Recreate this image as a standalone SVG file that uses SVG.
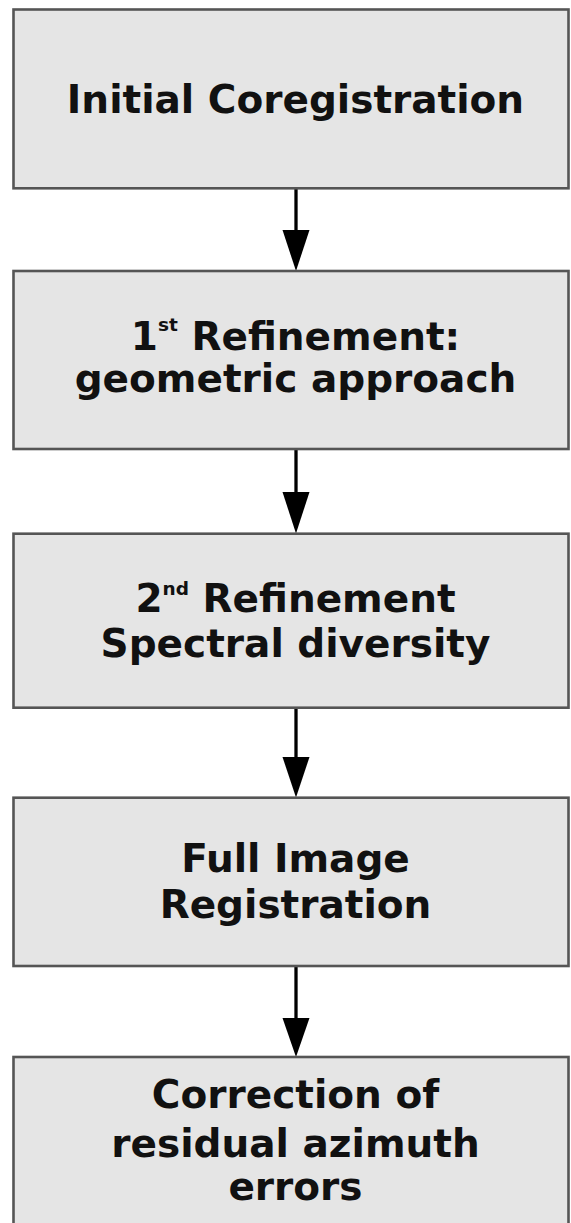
<svg xmlns="http://www.w3.org/2000/svg" width="571" height="1223" viewBox="0 0 571 1223">
<style>
.box{fill:#e5e5e5;stroke:#555555;stroke-width:2.6}
.lbl{font-family:"DejaVu Sans",sans-serif;font-weight:bold;font-size:39px;fill:#111111;text-anchor:middle}
.sup{font-size:18.5px}
.edge{stroke:#000000;stroke-width:3.3;fill:none}
.head{fill:#000000;stroke:none}
</style>
<rect width="571" height="1223" fill="#ffffff"/>
<g id="connectors">
<line class="edge" x1="296" y1="189" x2="296" y2="232"/>
<polygon class="head" points="282.5,230 309.5,230 296,271"/>
<line class="edge" x1="296" y1="450" x2="296" y2="494"/>
<polygon class="head" points="282.5,492 309.5,492 296,533.5"/>
<line class="edge" x1="296" y1="709" x2="296" y2="759"/>
<polygon class="head" points="282.5,757 309.5,757 296,797.5"/>
<line class="edge" x1="296" y1="967" x2="296" y2="1020"/>
<polygon class="head" points="282.5,1018 309.5,1018 296,1057"/>
</g>
<g id="node1">
<rect class="box" x="13.5" y="9.5" width="555" height="178.8"/>
<text class="lbl" x="295.5" y="113.3">Initial Coregistration</text>
</g>
<g id="node2">
<rect class="box" x="13.5" y="271" width="555" height="178"/>
<text class="lbl" x="295.5" y="350">1<tspan class="sup" dy="-19.5">st</tspan><tspan dy="19.5"> Refinement:</tspan></text>
<text class="lbl" x="295.5" y="391.7">geometric approach</text>
</g>
<g id="node3">
<rect class="box" x="13.5" y="533.7" width="555" height="174"/>
<text class="lbl" x="295.5" y="611.7">2<tspan class="sup" dy="-17">nd</tspan><tspan dy="17"> Refinement</tspan></text>
<text class="lbl" x="295.5" y="656.7">Spectral diversity</text>
</g>
<g id="node4">
<rect class="box" x="13.5" y="797.7" width="555" height="168.3"/>
<text class="lbl" x="295.5" y="871.7">Full Image</text>
<text class="lbl" x="295.5" y="917.7">Registration</text>
</g>
<g id="node5">
<rect class="box" x="13.5" y="1057" width="555" height="200"/>
<text class="lbl" x="295.5" y="1108.3">Correction of</text>
<text class="lbl" x="295.5" y="1156.7">residual azimuth</text>
<text class="lbl" x="295.5" y="1200">errors</text>
</g>
</svg>
